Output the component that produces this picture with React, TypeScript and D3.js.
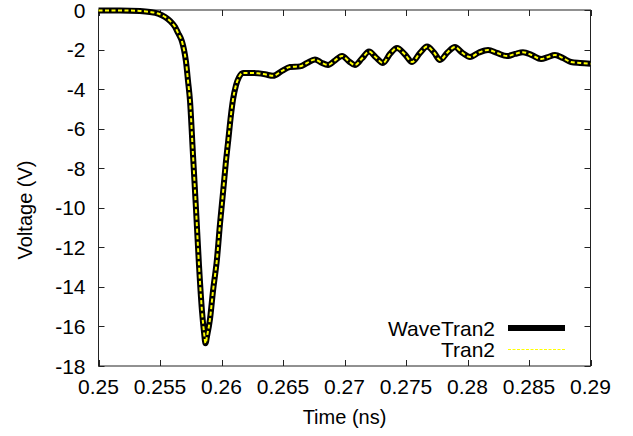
import React from "react";
import * as d3 from "d3";

const timeNs = [
  0.25, 0.25175, 0.25337, 0.25419, 0.25484, 0.25541, 0.25581, 0.25622, 0.25646, 0.25679,
  0.25695, 0.25711, 0.25728, 0.25744, 0.25768, 0.25793, 0.25817, 0.25841, 0.25858, 0.2587,
  0.25882, 0.25907, 0.25931, 0.25963, 0.25988, 0.26012, 0.26037, 0.26053, 0.26077, 0.26093,
  0.26118, 0.26142, 0.26175, 0.26232, 0.26297, 0.26354, 0.26419, 0.26492, 0.26557, 0.26638,
  0.26695, 0.2676, 0.26809, 0.26866, 0.26923, 0.2698, 0.27037, 0.27085, 0.27142, 0.27199,
  0.27256, 0.27313, 0.2737, 0.27427, 0.27492, 0.27549, 0.27614, 0.27671, 0.27728, 0.27776,
  0.27841, 0.27898, 0.27955, 0.2802, 0.28093, 0.28167, 0.2824, 0.28321, 0.28386, 0.28451,
  0.28524, 0.28598, 0.28654, 0.28711, 0.28776, 0.28841, 0.28915, 0.29,
];

const waveTran2Volts = [
  -0.02, -0.02, -0.05, -0.1, -0.18, -0.35, -0.55, -0.85, -1.15, -1.6,
  -2.0, -2.6, -3.6, -4.6, -7.3, -10.1, -12.9, -15.2, -16.3, -16.85,
  -16.5, -15.6, -14.2, -12.6, -10.8, -9.25, -7.6, -6.7, -5.3, -4.55,
  -3.8, -3.4, -3.18, -3.18, -3.2, -3.25, -3.33, -3.08, -2.88, -2.85,
  -2.68, -2.5, -2.65, -2.78, -2.55, -2.32, -2.6, -2.78, -2.45, -2.1,
  -2.4, -2.68, -2.22, -1.92, -2.25, -2.63, -2.17, -1.85, -2.15, -2.53,
  -2.12, -1.87, -2.15, -2.38, -2.15, -2.02, -2.17, -2.33, -2.22, -2.13,
  -2.28, -2.48, -2.38, -2.28, -2.43, -2.63, -2.68, -2.72,
];

const tran2Volts = [
  -0.02, -0.02, -0.05, -0.1, -0.18, -0.35, -0.55, -0.85, -1.15, -1.6,
  -2.0, -2.6, -3.6, -4.6, -7.3, -10.1, -12.9, -15.2, -16.3, -16.85,
  -16.5, -15.6, -14.2, -12.6, -10.8, -9.25, -7.6, -6.7, -5.3, -4.55,
  -3.8, -3.4, -3.18, -3.18, -3.2, -3.25, -3.33, -3.08, -2.88, -2.85,
  -2.68, -2.5, -2.65, -2.78, -2.55, -2.32, -2.6, -2.78, -2.45, -2.1,
  -2.4, -2.68, -2.22, -1.92, -2.25, -2.63, -2.17, -1.85, -2.15, -2.53,
  -2.12, -1.87, -2.15, -2.38, -2.15, -2.02, -2.17, -2.33, -2.22, -2.13,
  -2.28, -2.48, -2.38, -2.28, -2.43, -2.63, -2.68, -2.72,
];

const xTicks = [0.25, 0.255, 0.26, 0.265, 0.27, 0.275, 0.28, 0.285, 0.29];
const xTickLabels = ["0.25", "0.255", "0.26", "0.265", "0.27", "0.275", "0.28", "0.285", "0.29"];
const yTicks = [0, -2, -4, -6, -8, -10, -12, -14, -16, -18];
const yTickLabels = ["0", "-2", "-4", "-6", "-8", "-10", "-12", "-14", "-16", "-18"];
const seriesNames = ["WaveTran2", "Tran2"];

const W = 633;
const H = 436;
const L = 98.5;
const R = 590.5;
const T = 10;
const B = 366;
const FONT = "'Liberation Sans', Arial, Helvetica, sans-serif";

export default function App() {
  const x = d3.scaleLinear().domain([0.25, 0.29]).range([L, R]);
  const y = d3.scaleLinear().domain([-18, 0]).range([B, T]);

  const line = d3
    .line<number>()
    .x((_, i) => x(timeNs[i]))
    .y((d) => y(d))
    .curve(d3.curveMonotoneX);

  const wavePath = line(waveTran2Volts) || "";
  const tranPath = line(tran2Volts) || "";
  const tickLen = 6;
  const fs = 21;

  return (
    <svg
      width={W}
      height={H}
      viewBox={`0 0 ${W} ${H}`}
      style={{ position: "absolute", left: 0, top: 0, background: "#fff" }}
      fontFamily={FONT}
    >
      <rect x={0} y={0} width={W} height={H} fill="#fff" />
      {/* ticks */}
      <g stroke="#222" strokeWidth={1}>
        {yTicks.map((v) => (
          <g key={"yt" + v}>
            <line x1={L} x2={L + tickLen} y1={Math.round(y(v)) + 0.5} y2={Math.round(y(v)) + 0.5} />
            <line x1={R} x2={R - tickLen} y1={Math.round(y(v)) + 0.5} y2={Math.round(y(v)) + 0.5} />
          </g>
        ))}
        {xTicks.map((v) => (
          <g key={"xt" + v}>
            <line x1={Math.round(x(v)) + 0.5} x2={Math.round(x(v)) + 0.5} y1={B} y2={B - tickLen} />
            <line x1={Math.round(x(v)) + 0.5} x2={Math.round(x(v)) + 0.5} y1={T} y2={T + tickLen} />
          </g>
        ))}
      </g>
      <rect x={L} y={T} width={R - L} height={B - T} fill="none" stroke="#222" strokeWidth={1} />

      {/* tick labels */}
      <g fontSize={fs} fill="#000">
        {yTicks.map((v, i) => (
          <text key={"yl" + v} x={L - 13} y={y(v)} textAnchor="end" dominantBaseline="central">
            {yTickLabels[i]}
          </text>
        ))}
        {xTicks.map((v, i) => (
          <text key={"xl" + v} x={x(v)} y={B + 28} textAnchor="middle">
            {xTickLabels[i]}
          </text>
        ))}
      </g>

      <text x={(L + R) / 2} y={424} textAnchor="middle" fontSize={20} fill="#000">
        Time (ns)
      </text>
      <text
        transform={`translate(32,${(T + B) / 2 + 22}) rotate(-90)`}
        textAnchor="middle"
        fontSize={20}
        fill="#000"
      >
        Voltage (V)
      </text>

      {/* series */}
      <path d={wavePath} fill="none" stroke="#000" strokeWidth={6} />
      <path d={tranPath} fill="none" stroke="#ffff00" strokeWidth={2} strokeDasharray="4,2.5" />

      {/* legend */}
      <g fontSize={fs} fill="#000">
        <text x={495} y={328} textAnchor="end" dominantBaseline="central">
          {seriesNames[0]}
        </text>
        <line x1={508} x2={565} y1={328} y2={328} stroke="#000" strokeWidth={6} />
        <text x={495} y={349} textAnchor="end" dominantBaseline="central">
          {seriesNames[1]}
        </text>
        <line x1={508} x2={565} y1={349.5} y2={349.5} stroke="#ffff00" strokeWidth={1} strokeDasharray="3,1.5" />
      </g>
    </svg>
  );
}
